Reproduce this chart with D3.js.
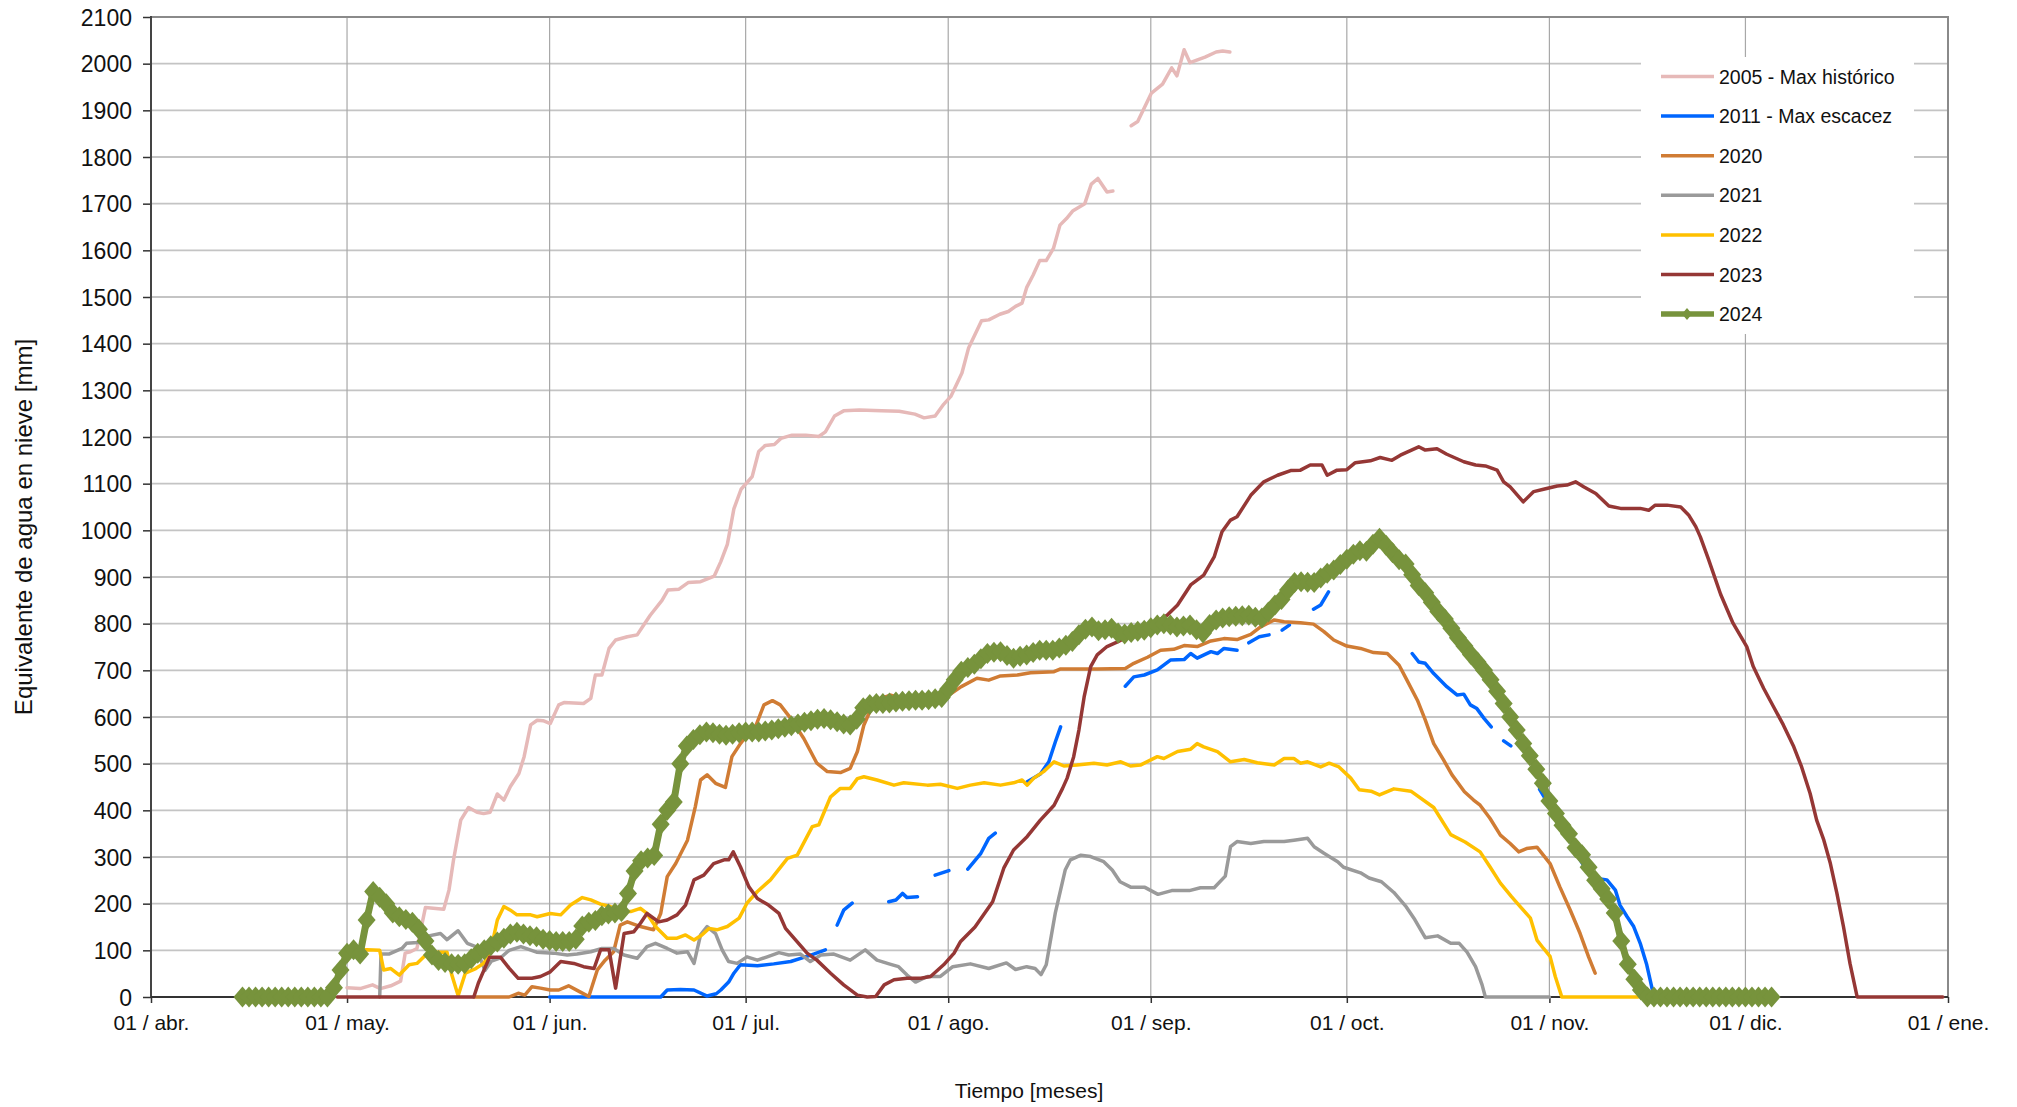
<!DOCTYPE html>
<html>
<head>
  <meta charset="utf-8">
  <title>Equivalente de agua en nieve</title>
  <style>
    body { margin: 0; background: #fff; }
    svg { display: block; font-family: "Liberation Sans", Arial, sans-serif; }
  </style>
</head>
<body>
<div id="chart"></div>

<script src="https://cdn.jsdelivr.net/npm/d3@7/dist/d3.min.js"></script>
<script type="text/javascript">

// x axis: month starts, day 0 = 1 April
var monthLabels = ["01 / abr.", "01 / may.", "01 / jun.", "01 / jul.", "01 / ago.",
                   "01 / sep.", "01 / oct.", "01 / nov.", "01 / dic.", "01 / ene."];
var yTicks = [0, 100, 200, 300, 400, 500, 600, 700, 800, 900, 1000,
              1100, 1200, 1300, 1400, 1500, 1600, 1700, 1800, 1900, 2000, 2100];

var seriesNames = ["2005 - Max histórico", "2011 - Max escacez", "2020", "2021", "2022", "2023", "2024"];

// [day since 1 apr, mm]  -- null = missing data
var s2005 = [[30,20],[32,18],[33.9,26],[35.1,18],[36.7,24],[38.2,34],[38.9,94],[39.7,97],[40.7,104],
  [42,192],[44.8,188],[45.6,229],[46.3,294],[47.4,379],[48.6,406],[49.9,396],[50.9,393],[51.9,396],
  [53,435],[54,422],[55,451],[56.3,479],[57.1,515],[58.1,583],[59.1,593],[60,592],[61.1,586],
  [62.4,626],[63.2,631],[66.2,629],[67.3,640],[68,690],[69,690],[70.1,747],[71.1,765],[72.9,772],
  [74.4,776],[75.2,793],[76.4,818],[78.2,850],[79.1,872],[80.8,874],[82.2,888],[84.1,890],[86.2,902],
  [87.2,933],[88.2,970],[89.2,1046],[90.3,1088],[92,1115],[93,1169],[94,1182],[95.4,1184],[96.4,1197],
  [98.1,1204],[100.2,1204],[102.2,1201],[103.2,1211],[104.6,1245],[106,1256],[108.4,1258],[111.8,1256],
  [114.5,1255],[116.9,1249],[118.3,1241],[120,1245],[121.3,1270],[122.4,1287],[124.1,1337],[125.1,1390],
  [127.1,1449],[128.2,1451],[129.9,1463],[131.2,1469],[132.3,1480],[133.3,1487],[134,1520],[135,1547],
  [136,1578],[137,1578],[138.1,1604],[139.1,1654],[140.1,1668],[141.1,1685],[142.9,1700],[143.9,1742],
  [144.9,1754],[146.3,1725],[147.2,1727],[148.5,null],
  [150,1867],[151,1876],[153.1,1937],[154.8,1956],[156.2,1991],[157,1974],[158.1,2030],[159,2002],
  [161.3,2014],[163,2025],[164,2027],[165.1,2025]];

var s2011 = [[61,0],[78,0],[79,15],[81,16],[83.1,15],[85.1,2],[86.5,7],[87.2,15],[88.4,32],[89.2,51],
  [90.2,69],[92.8,67],[95.3,71],[97.9,76],[99.9,85],[101.4,92],[103.2,101],[104,null],
  [105,154],[106,186],[107.3,201],[110,null],
  [112.9,204],[114,208],[115,222],[115.7,213],[117.3,215],[118.5,null],
  [120,261],[122.1,271],[123.5,null],
  [125,274],[127,308],[128.2,340],[129.2,351],[131,null],
  [134.1,461],[136.1,478],[137.4,504],[138.4,547],[139.2,579],[144,null],
  [149.1,666],[150.4,686],[152,690],[154,701],[156,722],[158.1,723],[159.1,736],[160.1,726],
  [162.2,740],[163.2,736],[164.2,747],[166.2,743],[167,null],
  [168,759],[169.6,772],[171.1,776],[172,null],
  [173.1,786],[174.2,797],[176,null],
  [177.9,831],[179,840],[180.2,868],[186,null],
  [193,736],[194,718],[195,715],[196.3,693],[198.3,665],[199.9,647],[200.9,649],[201.9,626],
  [202.9,618],[204,597],[205.1,579],[206,null],
  [207,549],[208.1,538],[210,null],
  [212.5,445],[214,410],[216,360],[218,315],[218.7,294],[219.7,272],[221.3,254],[222.8,251],
  [224.1,229],[224.8,197],[225.9,172],[226.9,151],[227.9,115],[228.9,69],[229.7,19],[230,0]];

var s2020 = [[49.4,0],[54.8,0],[56.2,8],[57.2,4],[58.3,22],[59.6,19],[61.1,15],[62.4,15],[63.9,24],
  [65.5,12],[67,1],[68.3,58],[69.5,79],[70.8,97],[71.8,154],[72.9,161],[74.9,151],[76.9,144],[78,179],
  [79,258],[80.3,286],[82.1,336],[83.3,408],[84.1,465],[85.1,476],[86.4,458],[87.9,449],[88.9,515],
  [90.2,543],[91.2,561],[92.5,579],[93.8,626],[95.1,635],[96.3,626],[97.9,597],[99.9,554],[101.9,501],
  [103.5,483],[105.5,481],[107,490],[108.1,526],[109.1,583],[110.1,615],[111.6,640],[113.2,647],
  [115.2,638],[119.3,638],[122,646],[124,665],[126.4,683],[128.2,679],[130,688],[132.6,690],[134.6,695],
  [138.2,697],[139.2,703],[144.8,703],[149.1,704],[150.4,715],[152.5,728],[154.5,743],[156.5,745],
  [158.1,753],[160.1,751],[162.2,763],[164.2,768],[166.2,766],[168.3,777],[169.8,793],[171.9,808],
  [173.4,804],[175.9,802],[177.9,799],[179.5,783],[181,765],[183,752],[185.1,747],[187.1,738],
  [189.2,736],[191,711],[192.2,679],[193.8,636],[195,594],[196.3,543],[197.8,508],[199.1,476],
  [201,440],[202.4,422],[203.4,411],[204.9,383],[206.5,347],[208,329],[209.3,311],[210.5,318],
  [212.1,321],[214.1,286],[215.6,236],[217.2,186],[218.7,136],[220,86],[221,51]];

var s2021 = [[35,0],[35.2,92],[36.4,92],[38.4,104],[39.1,115],[40.8,117],[42.5,131],[44.3,136],
  [45.3,123],[47,142],[48.4,115],[49.7,108],[51.1,57],[52.1,77],[53.5,84],[54.8,100],[56.6,108],
  [59,96],[61.6,94],[63.7,90],[65.2,92],[67.3,97],[69,104],[70.8,104],[72.4,90],[74.4,83],[75.9,108],
  [77.2,115],[79,104],[80.5,94],[82.1,97],[83.1,72],[84.1,133],[85.1,151],[86.4,136],[87.4,101],
  [88.4,76],[89.7,72],[91.2,86],[92.8,79],[94.3,86],[96.1,95],[97.6,90],[99.4,92],[100.9,76],
  [102.5,90],[104.5,92],[107,79],[109.3,101],[111.1,79],[113.2,70],[114.4,65],[115.7,47],[117,32],
  [118.8,44],[120.8,44],[122.7,65],[125.4,71],[128.2,61],[130.9,73],[132.3,59],[134,65],[135.3,61],
  [136.2,48],[137,69],[138.4,181],[139.9,272],[140.7,294],[142.3,304],[143.8,301],[145.8,290],
  [147.1,272],[148.3,247],[150,235],[152.1,235],[154.1,220],[156.2,228],[158.9,228],[160.6,234],
  [162.7,234],[164.4,259],[165.2,322],[166.2,333],[168.3,329],[170.3,333],[173.4,333],[174.9,336],
  [177,340],[178,322],[179.5,308],[181.6,290],[182.5,278],[185.1,266],[186.4,255],[188.3,247],
  [190.2,224],[192.1,193],[193.4,166],[195,127],[196.9,131],[198.9,115],[200.2,115],[201.4,96],
  [202.7,65],[203.7,26],[204.2,0],[214,0]];

var s2022 = [[31,100],[33,101],[35,100],[35.6,58],[36.7,61],[38,47],[39.5,69],[40.7,72],[41.8,87],
  [43.2,96],[45.3,96],[46,49],[47,3],[48.1,51],[49.7,61],[50.9,72],[51.9,94],[53,165],[54,194],[55,186],
  [56,176],[58.1,176],[59.1,172],[61.1,179],[62.7,176],[64.2,197],[66,213],[67.3,208],[68.8,199],
  [70.3,194],[71.8,183],[73.4,183],[74.9,190],[75.9,179],[77.2,151],[79,126],[80.5,126],[81.8,133],
  [83.1,122],[84.3,133],[85.4,147],[86.6,144],[88.2,151],[90,169],[91.2,201],[92.8,226],[94.8,251],
  [97.4,297],[98.9,304],[101.2,365],[102.2,369],[104,429],[105.5,447],[107,447],[108.1,468],[109.1,472],
  [111.1,465],[113.7,454],[115.2,459],[118.8,454],[120.8,456],[123.4,447],[125.4,454],[127.5,459],
  [130,454],[132,459],[133.3,465],[134.1,454],[135.1,469],[136.6,483],[138.2,504],[139.7,495],
  [141.7,497],[144.3,501],[146.3,497],[148.4,504],[149.9,495],[151.4,497],[154,515],[155,511],
  [157.1,526],[159.1,531],[160.1,543],[161.1,536],[163.2,526],[165.2,504],[167.3,509],[169.3,502],
  [171.9,497],[173.4,511],[174.9,511],[175.9,501],[177,504],[179,493],[180.3,501],[181.8,493],
  [183.6,469],[184.9,444],[186.7,441],[188,433],[190.2,446],[192.8,441],[196.3,406],[198.9,348],
  [201.1,332],[203.4,311],[204.9,279],[206.5,244],[208.2,215],[209.5,194],[211.1,169],[212.1,122],
  [213.1,104],[214.1,87],[214.9,44],[215.9,0],[227.6,0]];

var s2023 = [[28.5,0],[49.4,0],[50.1,30],[51.8,85],[53.5,85],[54.8,62],[56.2,40],[58.3,40],[59.6,44],
  [61.1,54],[62.7,76],[64.7,72],[66.2,65],[67.8,61],[68.8,101],[70.1,101],[71.1,19],[72.4,136],
  [73.9,140],[74.9,158],[75.9,179],[77.7,161],[79,165],[80.5,176],[81.8,197],[83.1,251],[84.6,261],
  [86.1,286],[87.7,294],[88.4,294],[89.1,311],[90.2,279],[91.5,236],[92.8,211],[94.5,197],[96.1,179],
  [97.1,147],[98.9,118],[100.4,94],[101.9,79],[104,51],[106,26],[108.1,4],[109.6,0],[110.9,1],
  [112.2,26],[113.7,37],[115.7,40],[117.8,40],[119.3,44],[121.3,69],[122.9,94],[123.9,119],[126.1,150],
  [128.8,204],[130.5,276],[132,315],[134.1,344],[136.1,379],[138.2,411],[139.5,447],[140.2,469],
  [141.2,515],[142,572],[142.8,643],[143.8,708],[144.8,733],[146.3,751],[147.9,761],[150.9,783],
  [153.5,801],[155.5,818],[157.1,840],[159.1,883],[161.1,904],[162.7,943],[163.9,997],[165.2,1022],
  [166.2,1029],[168.3,1075],[170.3,1104],[172.4,1118],[174.4,1128],[175.9,1129],[177.4,1140],
  [179.2,1140],[180,1118],[181.5,1129],[183,1130],[184.3,1145],[186.6,1149],[188.1,1156],[189.9,1150],
  [191.2,1161],[194,1179],[195,1172],[196.8,1175],[198.3,1163],[200.9,1147],[202.7,1140],[204.2,1138],
  [206,1129],[207,1104],[208,1093],[210,1061],[211.6,1083],[213.1,1088],[215.2,1095],[216.7,1097],
  [218,1104],[219.3,1093],[221.1,1079],[223.1,1052],[224.9,1047],[227.9,1047],[229.2,1043],[230.2,1054],
  [232,1054],[234.1,1050],[235.3,1033],[236.4,1008],[237.1,986],[238.3,940],[240.2,863],[242.1,801],
  [244.2,751],[245.2,708],[246.8,661],[248.3,622],[249.8,583],[251.4,536],[252.6,493],[253.9,436],
  [254.9,379],[256,336],[257,286],[258,222],[259,151],[260,72],[261.1,0],[274.2,0]];

// 2024 is daily (one marker per day), first value is 14 apr
var first2024 = 14;
var v2024 = [
  0,0,0,0,0,0,0,0,0,0,
  0,0,0,0,20,58,94,101,92,165,
  226,214,200,180,172,166,160,145,120,90,
  78,74,71,70,71,82,94,101,110,118,
  126,135,139,135,131,129,124,121,119,119,
  119,124,152,160,164,174,178,180,183,222,
  270,292,298,303,370,400,418,500,538,552,
  562,568,566,563,561,563,566,568,568,568,
  570,572,575,578,581,585,589,592,595,597,
  594,590,585,583,595,620,627,629,629,630,
  632,634,635,636,636,637,639,642,660,680,
  698,706,713,725,736,739,740,732,726,730,
  733,738,743,743,743,748,754,762,776,788,
  793,785,787,790,780,778,781,784,786,791,
  797,800,797,793,795,797,787,780,798,808,
  812,815,816,817,818,814,812,825,840,852,
  872,888,890,889,888,898,908,915,927,938,
  949,956,955,970,983,968,952,937,928,905,
  882,866,846,826,810,790,770,752,734,718,
  700,680,655,629,600,572,543,517,488,458,
  420,393,368,350,320,305,278,250,232,210,
  180,120,70,38,15,0,0,0,0,0,
  0,0,0,0,0,0,0,0,0,0,
  0,0,0,0,0];

var colors = ["#e6b9b8", "#0066ff", "#d07c34", "#9a9a9a", "#ffc000", "#953735", "#77933c"];

var width = 2017, height = 1107;
var plotL = 151, plotR = 1948, plotT = 17, plotB = 997;

var start = Date.UTC(2024, 3, 1), end = Date.UTC(2025, 0, 1);
function toDate(day) { return new Date(start + day * 864e5); }

var x = d3.scaleUtc().domain([new Date(start), new Date(end)]).range([plotL, plotR]);
var y = d3.scaleLinear().domain([0, 2100]).range([plotB, plotT]);
var monthTicks = x.ticks(d3.utcMonth.every(1));

var svg = d3.select('#chart').append('svg')
  .attr('width', width)
  .attr('height', height);

// grid
svg.append('g').selectAll('line')
  .data(yTicks.slice(1, -1))
  .enter().append('line')
  .attr('x1', plotL).attr('x2', plotR)
  .attr('y1', function(d){ return y(d); })
  .attr('y2', function(d){ return y(d); })
  .style('stroke', '#c4c4c4').style('stroke-width', 1.8);

svg.append('g').selectAll('line')
  .data(monthTicks.slice(1, -1))
  .enter().append('line')
  .attr('x1', function(d){ return x(d); })
  .attr('x2', function(d){ return x(d); })
  .attr('y1', plotT).attr('y2', plotB)
  .style('stroke', '#a8a8a8').style('stroke-width', 1.2);

svg.append('rect')
  .attr('x', plotL).attr('y', plotT)
  .attr('width', plotR - plotL).attr('height', plotB - plotT)
  .style('fill', 'none').style('stroke', '#8a8a8a').style('stroke-width', 2);

// axes
var yAxis = svg.append('g')
  .attr('transform', 'translate(' + plotL + ',0)')
  .call(d3.axisLeft(y).tickValues(yTicks).tickSize(8).tickPadding(11)
        .tickFormat(d3.format('d')));
var xAxis = svg.append('g')
  .attr('transform', 'translate(0,' + plotB + ')')
  .call(d3.axisBottom(x).tickValues(monthTicks).tickSize(6).tickPadding(12)
        .tickFormat(function(d, i){ return monthLabels[i]; }));

[yAxis, xAxis].forEach(function(a){
  a.select('.domain').remove();
  a.selectAll('.tick line').style('stroke', '#333').style('stroke-width', 1.5);
  a.selectAll('text').style('fill', '#111').style('font-family', '"Liberation Sans", Arial, sans-serif');
});
yAxis.selectAll('text').style('font-size', '23px').attr('dy', '0.36em');
xAxis.selectAll('text').style('font-size', '21px');

svg.append('line')
  .attr('x1', plotL).attr('x2', plotL).attr('y1', plotT - 1).attr('y2', plotB)
  .style('stroke', '#444').style('stroke-width', 2);
svg.append('line')
  .attr('x1', plotL).attr('x2', plotR).attr('y1', plotB).attr('y2', plotB)
  .style('stroke', '#333').style('stroke-width', 2);

// axis titles
svg.append('text')
  .attr('transform', 'translate(32,527) rotate(-90)')
  .attr('text-anchor', 'middle')
  .style('font-size', '24px').style('fill', '#111')
  .text('Equivalente de agua en nieve [mm]');
svg.append('text')
  .attr('x', 1029).attr('y', 1098)
  .attr('text-anchor', 'middle')
  .style('font-size', '21px').style('fill', '#111')
  .text('Tiempo [meses]');

// lines
var line = d3.line()
  .defined(function(d){ return d[1] !== null; })
  .x(function(d){ return x(toDate(d[0])); })
  .y(function(d){ return y(d[1]); });

var pts2024 = v2024.map(function(v, i){ return [first2024 + i, v]; });
var allSeries = [s2005, s2011, s2020, s2021, s2022, s2023, pts2024];

var plot = svg.append('g');
allSeries.forEach(function(s, i){
  plot.append('path')
    .attr('d', line(s))
    .style('fill', 'none')
    .style('stroke', colors[i])
    .style('stroke-width', i == 6 ? 7 : 3.5)
    .style('stroke-linejoin', 'round')
    .style('stroke-linecap', 'round');
});

var diamond = 'M0,-10.5L9,0L0,10.5L-9,0Z';
plot.append('g').selectAll('path')
  .data(pts2024)
  .enter().append('path')
  .attr('d', diamond)
  .attr('transform', function(d){ return 'translate(' + x(toDate(d[0])) + ',' + y(d[1]) + ')'; })
  .style('fill', colors[6]);

// legend
var legend = svg.append('g');
legend.append('rect')
  .attr('x', 1641).attr('y', 57).attr('width', 273).attr('height', 277)
  .style('fill', '#fff');

var item = legend.selectAll('g.item')
  .data(seriesNames)
  .enter().append('g')
  .attr('transform', function(d, i){ return 'translate(1661,' + (76.5 + i * 39.6) + ')'; });

item.append('line')
  .attr('x1', 0).attr('x2', 53)
  .style('stroke', function(d, i){ return colors[i]; })
  .style('stroke-width', function(d, i){ return i == 6 ? 5.5 : 3.5; });

item.filter(function(d, i){ return i == 6; })
  .append('path')
  .attr('d', 'M0,-6L5,0L0,6L-5,0Z')
  .attr('transform', 'translate(26,0)')
  .style('fill', colors[6]);

item.append('text')
  .attr('x', 58).attr('dy', '0.36em')
  .style('font-size', '19.5px').style('fill', '#111')
  .text(function(d){ return d; });

</script>
</body>
</html>
